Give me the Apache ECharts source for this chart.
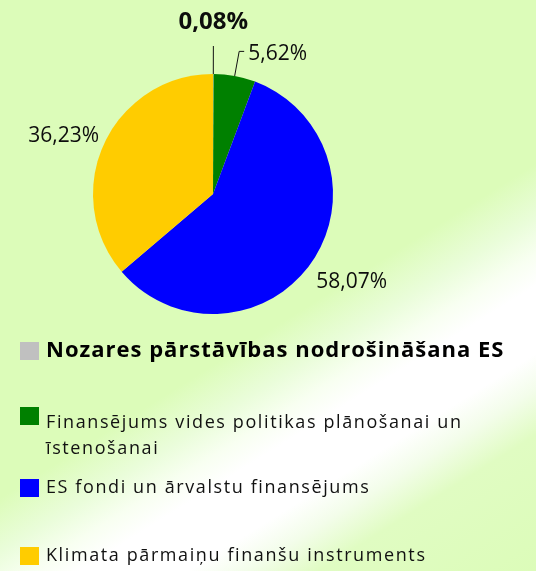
<!DOCTYPE html>
<html>
<head>
<meta charset="utf-8">
<script src="https://cdn.jsdelivr.net/npm/echarts@6/dist/echarts.min.js"></script>
<style>
  html, body { margin: 0; padding: 0; }
  body {
    width: 536px; height: 571px; overflow: hidden;
    /* pale green backdrop crossed by a soft diagonal white streak */
    background: linear-gradient(148deg,
      #DCFCB9 0%, #DCFCB9 55%, #EAFDDA 61%, #F8FFF1 65%, #FFFFFF 68.5%,
      #FFFFFF 76%, #F3FDEA 80%, #E0FCC2 85%, #DCFCB9 100%);
  }
  #chart { width: 536px; height: 571px; }
</style>
</head>
<body>
<div id="chart"></div>
<script>
// Budget structure, shares in percent
const categories = [
  'Nozares pārstāvības nodrošināšana ES',
  'Finansējums vides politikas plānošanai un īstenošanai',
  'ES fondi un ārvalstu finansējums',
  'Klimata pārmaiņu finanšu instruments'
];
const shares = [0.08, 5.62, 58.07, 36.23];
const sliceColors = ['#C0C0C0', '#008000', '#0000FF', '#FFCC00'];

const FONT = "'Open Sans', 'Noto Sans', sans-serif";
const fmt = v => v.toFixed(2).replace('.', ',') + '%';

// Legend captions get a little extra tracking (canvas letterSpacing)
const TRACKING = [[/\b22px/, '1px'], [/\b18px/, '1.6px']];
const ctxProto = CanvasRenderingContext2D.prototype;
const plainFillText = ctxProto.fillText;
ctxProto.fillText = function (text, x, y, maxWidth) {
  const rule = TRACKING.find(r => r[0].test(this.font));
  if ('letterSpacing' in this) this.letterSpacing = rule ? rule[1] : '0px';
  return maxWidth === undefined
    ? plainFillText.call(this, text, x, y)
    : plainFillText.call(this, text, x, y, maxWidth);
};

// per-slice label settings
const labelCfg = [
  { label: { fontSize: 24, fontWeight: 'bold' }, labelLine: { show: true, length: 28, length2: 0 } },
  { label: { fontSize: 21 }, labelLine: { show: true, length: 25, length2: 5 }, labelDistance: 4 },
  { label: { fontSize: 21 }, labelLine: { show: false, length: 0, length2: 0 } },
  { label: { fontSize: 21 }, labelLine: { show: false, length: 0, length2: 0 } }
];

const pieData = categories.map((name, i) => ({
  name: name,
  value: shares[i],
  itemStyle: { color: sliceColors[i] },
  label: Object.assign({ distanceToLabelLine: labelCfg[i].labelDistance || 5 }, labelCfg[i].label),
  labelLine: labelCfg[i].labelLine
}));

const captionStyle = { fontFamily: FONT, fontSize: 18, color: '#111' };

// one legend block per category so each row can sit at its own height
const legendTops = [340, 381, 479, 547];
const legends = categories.map((name, i) => ({
  data: [name],
  left: 20,
  top: legendTops[i],
  orient: 'vertical',
  padding: 0,
  icon: 'rect',
  itemWidth: 19,
  itemHeight: 18,
  selectedMode: false,
  // the blank spacer line keeps the first caption line level with the swatch
  formatter: i === 1
    ? '{gap|}\n{cap|Finansējums vides politikas plānošanai un}\n{cap|īstenošanai}'
    : '{name}',
  textStyle: i === 0
    ? { fontFamily: FONT, fontSize: 22, fontWeight: 'bold', color: '#000', padding: [0, 0, 0, 2] }
    : Object.assign({
        padding: [0, 0, 0, 2],
        rich: {
          gap: Object.assign({ lineHeight: 40 }, captionStyle),
          cap: Object.assign({ lineHeight: 26 }, captionStyle)
        }
      }, captionStyle)
}));

const chart = echarts.init(document.getElementById('chart'), null, { renderer: 'canvas' });
chart.setOption({
  backgroundColor: 'transparent',
  animation: false,
  legend: legends,
  series: [{
    type: 'pie',
    center: [213, 194],
    radius: 120,
    startAngle: 90,
    clockwise: true,
    avoidLabelOverlap: false,
    data: pieData,
    label: {
      show: true,
      position: 'outside',
      fontFamily: FONT,
      color: '#0d0d0d',
      formatter: p => fmt(p.value)
    },
    labelLine: {
      smooth: false,
      lineStyle: { color: '#111', width: 1 }
    },
    labelLayout: function (p) {
      if (p.dataIndex === 0) {
        const pts = p.labelLinePoints;
        if (pts) {
          const end = pts[pts.length - 1];
          return { x: end[0], y: end[1] - 12, align: 'center', verticalAlign: 'bottom', labelLinePoints: pts };
        }
        return {};
      }
      if (p.dataIndex === 1) return { dy: 3 };
      if (p.dataIndex === 2) return { dy: 19 };
      if (p.dataIndex === 3) return { dy: -8 };
      return {};
    },
    emphasis: { disabled: true }
  }]
});
</script>
</body>
</html>
